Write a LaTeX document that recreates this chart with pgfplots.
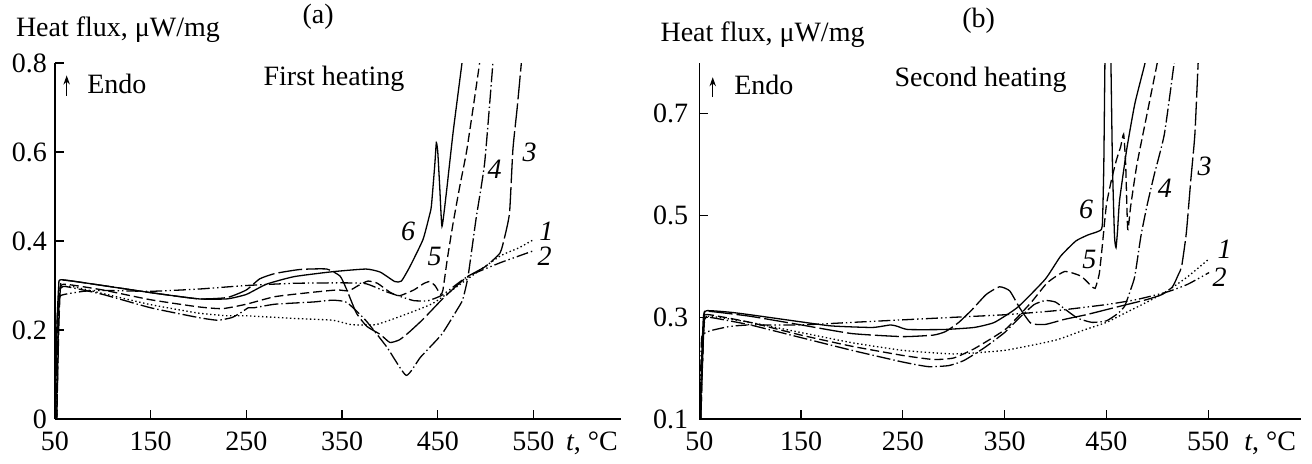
\documentclass[border=0pt]{standalone}
\usepackage{fontspec}
\setmainfont{Liberation Serif}
\usepackage{pgfplots}
\pgfplotsset{compat=1.18}
\usetikzlibrary{arrows.meta}
\newcommand\fs{\fontsize{14}{16}\selectfont}
\newcommand\tlab{\textit{t}, °C}
\tikzset{
 c1/.style={dash pattern=on 0.7pt off 1.3pt},
 c2/.style={dash pattern=on 6pt off 1.5pt on 0.7pt off 1.5pt on 0.7pt off 1.5pt},
 c3/.style={dash pattern=on 12pt off 2pt},
 c4/.style={dash pattern=on 7pt off 1.5pt on 0.7pt off 1.5pt},
 c5/.style={dash pattern=on 4.5pt off 2pt},
 c6/.style={solid},
}
\pgfplotsset{
 myax/.style={
  scale only axis, axis lines*=left,
  axis line style={line width=0.65pt, black},
  xmin=50, xmax=641, xtick={50,150,250,350,450,550},
  tick align=inside, major tick length=4.5pt,
  tick style={line width=0.6pt, black},
  clip mode=individual,
  /pgf/number format/assume math mode=true,
  tick label style={font=\fs},
  xticklabel shift=3pt,
  extra x ticks={611}, extra x tick labels={\tlab},
  extra x tick style={major tick length=0pt},
  every axis plot/.append style={line width=0.65pt, black, smooth, tension=0.3},
 }
}
\begin{document}
\begin{tikzpicture}
\path[use as bounding box] (0,0) rectangle (656pt,231.5pt);
% ---------------- (a)
\begin{axis}[myax, at={(27.45pt,22pt)}, anchor=south west,
  width=282.85pt, height=178pt, ymin=0, ymax=0.8,
  ytick={0,0.2,0.4,0.6,0.8}, yticklabel shift=0.5pt]
\addplot[c1] coordinates {(52,0)(53.5,0.2)(55,0.285)(58,0.298)(70,0.297)(100,0.282)(150,0.257)(200,0.238)(230,0.232)(250,0.232)(300,0.226)(340,0.222)(360,0.212)(385,0.212)(410,0.23)(445,0.26)(480,0.313)(515,0.366)(535,0.385)(550,0.403)};
\addplot[c2] coordinates {(51,0)(52,0.2)(54,0.272)(60,0.28)(80,0.287)(100,0.289)(150,0.287)(200,0.292)(250,0.3)(300,0.305)(350,0.306)(375,0.304)(395,0.287)(410,0.276)(425,0.266)(440,0.266)(455,0.279)(481,0.32)(515,0.351)(550,0.378)};
\addplot[c3] coordinates {(52,0)(54,0.2)(56,0.305)(60,0.312)(100,0.3)(150,0.284)(200,0.27)(230,0.273)(250,0.29)(264,0.315)(280,0.327)(306,0.336)(334,0.337)(348,0.321)(355,0.29)(365,0.238)(376,0.208)(390,0.19)(400,0.172)(410,0.178)(420,0.195)(435,0.225)(455,0.27)(470,0.3)(481,0.32)(500,0.343)(515,0.373)(520,0.41)(525,0.464)(528.5,0.606)(533,0.7)(537.3,0.8)(539,0.85)};
\addplot[c4] coordinates {(51,0)(53,0.2)(55,0.285)(60,0.298)(100,0.28)(150,0.25)(200,0.228)(220,0.222)(235,0.228)(245,0.24)(252,0.25)(258,0.25)(280,0.258)(320,0.263)(340,0.267)(355,0.262)(375,0.221)(397,0.161)(417,0.098)(432,0.139)(454,0.19)(470,0.245)(476,0.268)(481.6,0.32)(490,0.45)(499,0.576)(507.6,0.8)(509,0.85)};
\addplot[c5] coordinates {(52,0)(53.5,0.2)(55,0.29)(60,0.303)(100,0.29)(150,0.268)(200,0.252)(225,0.248)(250,0.258)(280,0.275)(320,0.285)(345,0.29)(357,0.288)(367,0.3)(377,0.31)(387,0.305)(400,0.285)(410,0.277)(425,0.29)(435,0.304)(441.5,0.309)(447,0.3)(453,0.28)(455.4,0.29)(460,0.36)(466,0.44)(473,0.523)(480,0.6)(487,0.7)(493.7,0.8)(495,0.83)};
\addplot[c6] coordinates {(50.5,0)(52,0.2)(54,0.3)(57,0.313)(100,0.3)(150,0.284)(200,0.27)(230,0.27)(250,0.28)(271,0.303)(300,0.32)(340,0.331)(375,0.337)(390,0.33)(405,0.309)(412,0.31)(421,0.343)(434.5,0.403)(441,0.455)(443.3,0.478)(446.8,0.569)(448.5,0.621)(450,0.6)(452,0.523)(454.4,0.433)(459,0.509)(466,0.644)(475.3,0.8)(477,0.83)};
\node[font=\fs\itshape] at (axis cs:418.9,0.422) {6};
\node[font=\fs\itshape] at (axis cs:446.8,0.366) {5};
\node[font=\fs\itshape] at (axis cs:509.4,0.561) {4};
\node[font=\fs\itshape] at (axis cs:546,0.599) {3};
\node[font=\fs\itshape] at (axis cs:563.4,0.422) {1};
\node[font=\fs\itshape] at (axis cs:561.6,0.366) {2};
\draw[line width=0.6pt, -{Stealth[length=4.5pt,width=3.2pt]}] (axis cs:62.3,0.726) -- (axis cs:62.3,0.772);
\node[font=\fs, anchor=west] at (axis cs:76.5,0.753) {Endo};
\node[font=\fs] at (axis cs:341.6,0.764) {First heating};
\node[font=\fs] at (axis cs:325,0.904) {(a)};
\node[font=\fs, anchor=west] at (axis cs:2,0.874) {Heat flux, μW/mg};
\end{axis}
% ---------------- (b)
\begin{axis}[myax, at={(349.65pt,22pt)}, anchor=south west,
  width=300.7pt, height=178pt, ymin=0.1, ymax=0.8,
  ytick={0.1,0.3,0.5,0.7}, yticklabel shift=2pt]
\addplot[c1] coordinates {(51,0.1)(52.5,0.2)(55,0.29)(60,0.302)(100,0.29)(150,0.27)(200,0.25)(250,0.235)(300,0.228)(350,0.235)(400,0.255)(428,0.275)(450,0.29)(470,0.31)(490,0.33)(510,0.352)(530,0.38)(551,0.415)};
\addplot[c2] coordinates {(50.5,0.1)(51.5,0.2)(52.5,0.262)(60,0.273)(80,0.282)(100,0.285)(150,0.285)(200,0.29)(250,0.295)(300,0.3)(350,0.305)(400,0.313)(450,0.325)(480,0.335)(510,0.35)(530,0.365)(551,0.388)};
\addplot[c3] coordinates {(51.5,0.1)(53,0.2)(55,0.305)(58,0.312)(100,0.302)(150,0.285)(200,0.268)(250,0.262)(280,0.265)(292,0.272)(305,0.29)(318,0.315)(332,0.345)(345,0.36)(355,0.352)(365,0.318)(376,0.288)(390,0.286)(409,0.296)(430,0.305)(450,0.315)(470,0.325)(490,0.335)(505,0.345)(515,0.36)(521,0.385)(524,0.40)(528.6,0.466)(533,0.57)(537,0.66)(540.2,0.8)(541,0.83)};
\addplot[c4] coordinates {(51,0.1)(52.5,0.2)(55,0.295)(60,0.3)(100,0.285)(150,0.26)(200,0.235)(250,0.212)(275,0.203)(295,0.205)(310,0.215)(330,0.24)(350,0.27)(365,0.3)(379,0.325)(390,0.333)(400,0.33)(410,0.315)(422,0.298)(436,0.29)(450,0.293)(461,0.307)(468,0.322)(474,0.355)(478,0.381)(484,0.46)(490,0.52)(497,0.58)(507,0.66)(516.6,0.8)(518,0.83)};
\addplot[c5] coordinates {(51.5,0.1)(53,0.2)(55,0.298)(60,0.305)(100,0.29)(150,0.265)(200,0.243)(250,0.225)(280,0.217)(300,0.22)(320,0.238)(340,0.262)(353,0.28)(376,0.329)(392,0.368)(409,0.39)(425,0.381)(435,0.362)(439,0.357)(443,0.385)(446,0.44)(450,0.52)(455,0.57)(460,0.61)(464,0.635)(467,0.66)(469,0.6)(471,0.473)(474,0.52)(480,0.6)(490,0.7)(500,0.8)(502,0.83)};
\addplot[c6] coordinates {(50.5,0.1)(52,0.2)(54,0.3)(57,0.313)(80,0.31)(100,0.305)(150,0.291)(180,0.283)(220,0.28)(238,0.285)(245,0.282)(255,0.276)(290,0.276)(320,0.28)(340,0.29)(363,0.32)(390,0.375)(405,0.42)(420,0.45)(432,0.462)(442,0.469)(446,0.48)(447.5,0.6)(448.6,0.8)(450,0.95)(453,0.95)(454.5,0.8)(456,0.6)(458,0.46)(459.5,0.437)(461,0.47)(463,0.53)(470,0.63)(478,0.72)(488,0.8)(490,0.83)};
\node[font=\fs\itshape] at (axis cs:430,0.512) {6};
\node[font=\fs\itshape] at (axis cs:433.3,0.414) {5};
\node[font=\fs\itshape] at (axis cs:507.5,0.554) {4};
\node[font=\fs\itshape] at (axis cs:546.6,0.597) {3};
\node[font=\fs\itshape] at (axis cs:566.3,0.433) {1};
\node[font=\fs\itshape] at (axis cs:561.3,0.378) {2};
\draw[line width=0.6pt, -{Stealth[length=4.5pt,width=3.2pt]}] (axis cs:63.2,0.733) -- (axis cs:63.2,0.772);
\node[font=\fs, anchor=west] at (axis cs:77.5,0.757) {Endo};
\node[font=\fs] at (axis cs:326.4,0.767) {Second heating};
\node[font=\fs] at (axis cs:324.5,0.884) {(b)};
\node[font=\fs, anchor=west] at (axis cs:5,0.855) {Heat flux, μW/mg};
\end{axis}
\end{tikzpicture}
\end{document}
